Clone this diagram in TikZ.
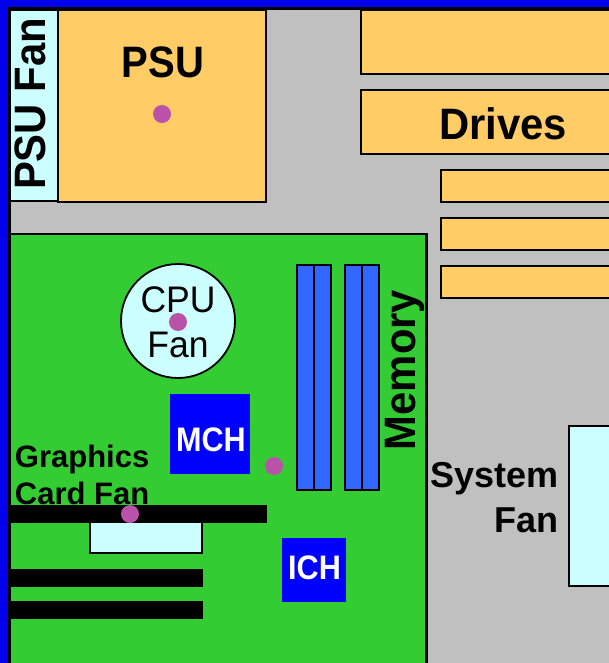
\documentclass[tikz,border=0pt]{standalone}
\usepackage{fontspec}
\setmainfont{Liberation Sans}
\usepackage{graphicx}
\definecolor{edgeblue}{RGB}{0,0,235}
\definecolor{casegrey}{RGB}{192,192,192}
\definecolor{boardgreen}{RGB}{51,204,51}
\definecolor{partorange}{RGB}{255,204,102}
\definecolor{fancyan}{RGB}{204,255,255}
\definecolor{memblue}{RGB}{51,102,255}
\definecolor{chipblue}{RGB}{0,0,255}
\definecolor{dotpink}{RGB}{187,82,170}
\begin{document}
\begin{tikzpicture}[x=1pt,y=-1pt,line join=miter,
  outl/.style={draw=black,line width=2.5pt},
  partbox/.style={outl,fill=partorange},
  fanbox/.style={outl,fill=fancyan},
  memstick/.style={outl,fill=memblue},
  chip/.style={fill=chipblue},
  slot/.style={fill=black},
  hotdot/.style={circle,fill=dotpink,minimum size=18pt,inner sep=0pt},
  lbl/.style={inner sep=0pt,text=black},
  biglbl/.style={lbl,font=\fontsize{44}{50}\selectfont\bfseries},
  chiplbl/.style={inner sep=0pt,text=white,font=\fontsize{34}{40}\selectfont\bfseries}]
\useasboundingbox (0,0) rectangle (609,663);
\clip (0,0) rectangle (609,663);
% case
\fill[edgeblue] (0,0) rectangle (609,663);
\draw[outl,fill=casegrey] (9.5,8.5) rectangle (640,700);
% PSU and its fan
\draw[fanbox] (10,10) rectangle (58,201);
\draw[partbox] (58,10) rectangle (266,202);
% drives
\draw[partbox] (361,10) rectangle (640,74);
\draw[partbox] (361,90) rectangle (640,154);
\draw[partbox] (441,170) rectangle (640,202);
\draw[partbox] (441,218) rectangle (640,250);
\draw[partbox] (441,266) rectangle (640,298);
% system fan
\draw[fanbox] (569,426) rectangle (640,586);
% board
\draw[outl,fill=boardgreen] (9.5,234) rectangle (426.5,700);
% memory
\draw[memstick] (297,265) rectangle (314,490);
\draw[memstick] (314,265) rectangle (331,490);
\draw[memstick] (345,265) rectangle (362,490);
\draw[memstick] (362,265) rectangle (379,490);
% CPU fan
\draw[outl,line width=1.8pt,fill=fancyan] (178,321) circle (57);
% chips
\fill[chip] (170,394) rectangle (250,474);
\fill[chip] (282,538) rectangle (346,602);
% graphics card and slots
\draw[fanbox] (90,521) rectangle (202,553);
\fill[slot] (10,505) rectangle (267,523);
\fill[slot] (10,569) rectangle (203,587);
\fill[slot] (10,601) rectangle (203,619);
% labels
\node[biglbl,anchor=base] (psu) at (163,78) {\scalebox{0.91}[1]{PSU}};
\node[biglbl,anchor=base,rotate=90] (psufan) at (45,104) {\scalebox{0.95}[1]{PSU Fan}};
\node[biglbl,anchor=base] (drives) at (503,140) {\scalebox{0.95}[1]{Drives}};
\node[biglbl,anchor=base,rotate=90] (memory) at (415,370) {\scalebox{0.95}[1]{Memory}};
\node[lbl,anchor=base east,align=right,font=\fontsize{36}{45}\selectfont\bfseries] (sysfan) at (559,532) {System\\Fan};
\node[lbl,anchor=base,align=center,font=\fontsize{37}{45}\selectfont] (cpufan) at (178,357) {\scalebox{0.96}[1]{CPU}\\\scalebox{0.96}[1]{Fan}};
\node[lbl,anchor=base west,align=left,font=\fontsize{31}{37}\selectfont\bfseries] (gfxfan) at (14.7,504) {Graphics\\Card Fan};
\node[chiplbl,anchor=base] (mch) at (211,451.7) {\scalebox{0.9}[1]{MCH}};
\node[chiplbl,anchor=base] (ich) at (314.5,579.3) {\scalebox{0.9}[1]{ICH}};
% hot spots
\node[hotdot] (dpsu) at (162,114) {};
\node[hotdot] (dcpu) at (178,322) {};
\node[hotdot] (dmem) at (274,466) {};
\node[hotdot] (dgfx) at (130,514) {};
\end{tikzpicture}
\end{document}
